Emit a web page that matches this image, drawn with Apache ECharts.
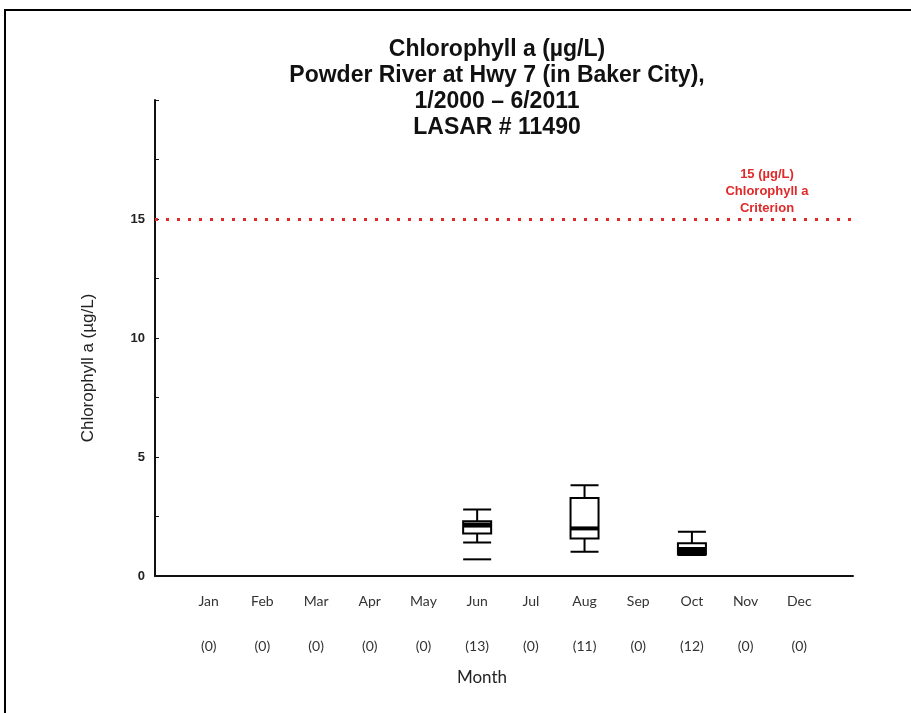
<!DOCTYPE html>
<html>
<head>
<meta charset="utf-8">
<script src="https://cdn.jsdelivr.net/npm/echarts@6/dist/echarts.min.js"></script>
<style>
html,body{margin:0;padding:0;background:#fff;}
#chart{width:911px;height:713px;}
</style>
</head>
<body>
<div id="chart"></div>
<script>
// ---- data ----
const months = ['Jan','Feb','Mar','Apr','May','Jun','Jul','Aug','Sep','Oct','Nov','Dec'];
const counts = [0,0,0,0,0,13,0,11,0,12,0,0];
// box stats per sampled month
const boxMonths = [5, 7, 9];
const boxMin    = [1.41, 1.02, 0.88];
const boxQ1     = [1.79, 1.58, 0.90];
const boxMedian = [2.14, 2.00, 1.05];
const boxQ3     = [2.30, 3.28, 1.38];
const boxMax    = [2.79, 3.81, 1.86];
// extra low value mark (Jun)
const extraMonths = [5];
const extraValues = [0.70];
const criterion = 15;
const yTicks = [0, 5, 10, 15];

// drawing style: thickness of median bar per box (pixels)
const medianThickness = [5, 4, 8];

// categories padded with one empty slot each side
const cats = [''].concat(months.map((m, i) => m + '\n(' + counts[i] + ')')).concat(['']);
const boxData = boxMonths.map((m, i) => [m + 1, boxMin[i], boxQ1[i], boxMedian[i], boxQ3[i], boxMax[i]]);
const medianData = boxMonths.map((m, i) => ({ value: [m + 1, boxMedian[i]], symbolSize: [28, medianThickness[i]] }));
const extraData = extraMonths.map((m, i) => [m + 1, extraValues[i]]);

const chart = echarts.init(document.getElementById('chart'));
chart.setOption({
  animation: false,
  backgroundColor: '#fff',
  title: {
    text: 'Chlorophyll a (µg/L)\nPowder River at Hwy 7 (in Baker City),\n1/2000 – 6/2011\nLASAR # 11490',
    left: 492,
    top: 32,
    textAlign: 'center',
    textStyle: {
      fontFamily: 'Liberation Sans',
      fontWeight: 'bold',
      fontSize: 23,
      lineHeight: 26,
      color: '#111'
    }
  },
  grid: { left: 155, right: 58, top: 100, bottom: 137 },
  xAxis: {
    type: 'category',
    data: cats,
    boundaryGap: false,
    axisLine: { lineStyle: { color: '#111', width: 2 } },
    axisTick: { show: false },
    splitLine: { show: false },
    axisLabel: {
      interval: 0,
      margin: 3,
      fontFamily: 'Lato',
      fontSize: 14,
      lineHeight: 45,
      color: '#333'
    }
  },
  yAxis: {
    type: 'value',
    min: 0,
    max: 20,
    interval: 2.5,
    axisLine: { show: true, lineStyle: { color: '#111', width: 2 } },
    axisTick: { show: true, inside: true, length: 4, lineStyle: { color: '#111', width: 1 } },
    splitLine: { show: false },
    axisLabel: {
      margin: 10,
      fontFamily: 'Liberation Sans',
      fontWeight: 'bold',
      fontSize: 13,
      color: '#222',
      formatter: v => (yTicks.indexOf(v) >= 0 ? String(v) : '')
    }
  },
  series: [
    {
      type: 'boxplot',
      data: boxData,
      encode: { x: 0, y: [1, 2, 3, 4, 5] },
      boxWidth: [28, 28],
      itemStyle: { color: '#fff', borderColor: '#000', borderWidth: 2 },
      markLine: {
        symbol: 'none',
        silent: true,
        label: { show: false },
        lineStyle: { color: '#e02a2a', type: [3, 8], width: 3, cap: 'butt' },
        data: [{ yAxis: criterion }]
      },
      z: 1
    },
    {
      type: 'scatter',
      data: medianData,
      symbol: 'rect',
      symbolSize: [28, 5],
      itemStyle: { color: '#000', opacity: 1 },
      z: 10
    },
    {
      type: 'scatter',
      data: extraData,
      symbol: 'rect',
      symbolSize: [28, 2],
      itemStyle: { color: '#000', opacity: 1 },
      z: 10
    }
  ],
  graphic: [
    {
      type: 'rect',
      shape: { x: 5, y: 10, width: 1200, height: 1200 },
      style: { fill: 'none', stroke: '#000', lineWidth: 2 },
      silent: true
    },
    {
      type: 'text',
      x: 88, y: 368,
      rotation: Math.PI / 2,
      style: {
        text: 'Chlorophyll a (µg/L)',
        fontFamily: 'Liberation Sans',
        fontSize: 17,
        fill: '#222',
        textAlign: 'center',
        textVerticalAlign: 'middle'
      }
    },
    {
      type: 'text',
      x: 482, y: 678,
      style: {
        text: 'Month',
        fontFamily: 'Lato',
        fontSize: 17,
        fill: '#222',
        textAlign: 'center',
        textVerticalAlign: 'middle'
      }
    },
    {
      type: 'text',
      x: 767, y: 191,
      style: {
        text: '15 (µg/L)\nChlorophyll a\nCriterion',
        fontFamily: 'Liberation Sans',
        fontWeight: 'bold',
        fontSize: 13,
        lineHeight: 17,
        fill: '#e02a2a',
        textAlign: 'center',
        textVerticalAlign: 'middle'
      }
    }
  ]
});
</script>
</body>
</html>
